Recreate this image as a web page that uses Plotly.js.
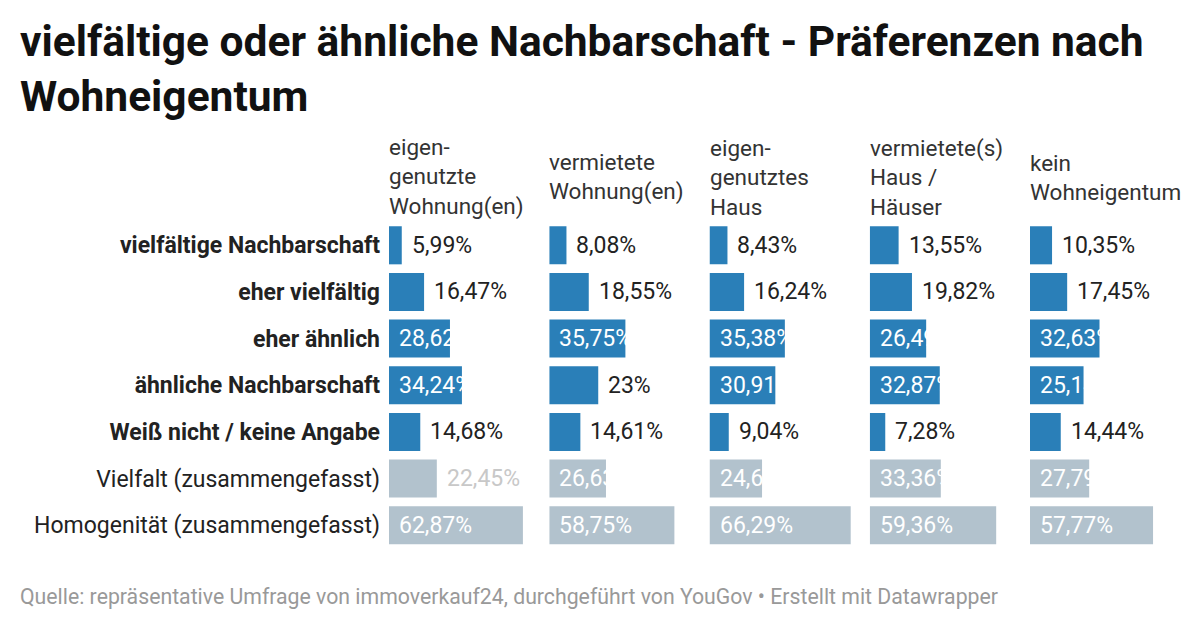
<!DOCTYPE html>
<html>
<head>
<meta charset="utf-8">
<script src="https://cdn.plot.ly/plotly-3.0.1.min.js"></script>
<style>html,body{margin:0;padding:0;background:#fff;}#chart{width:1200px;height:628px;}</style>
</head>
<body>
<div id="chart"></div>
<script>
// ---- data ----
const rowLabels = [
  "vielfältige Nachbarschaft",
  "eher vielfältig",
  "eher ähnlich",
  "ähnliche Nachbarschaft",
  "Weiß nicht / keine Angabe",
  "Vielfalt (zusammengefasst)",
  "Homogenität (zusammengefasst)"
];
const columnHeaders = [
  "eigen-<br>genutzte<br>Wohnung(en)",
  "vermietete<br>Wohnung(en)",
  "eigen-<br>genutztes<br>Haus",
  "vermietete(s)<br>Haus /<br>Häuser",
  "kein<br>Wohneigentum"
];
const eigengenutzteWohnung = [5.99, 16.47, 28.62, 34.24, 14.68, 22.45, 62.87];
const vermieteteWohnung    = [8.08, 18.55, 35.75, 23, 14.61, 26.63, 58.75];
const eigengenutztesHaus   = [8.43, 16.24, 35.38, 30.91, 9.04, 24.67, 66.29];
const vermieteteHaeuser    = [13.55, 19.82, 26.49, 32.87, 7.28, 33.36, 59.36];
const keinWohneigentum     = [10.35, 17.45, 32.63, 25.14, 14.44, 27.79, 57.77];
const columns = [eigengenutzteWohnung, vermieteteWohnung, eigengenutztesHaus, vermieteteHaeuser, keinWohneigentum];
const boldRows = [true, true, true, true, true, false, false];
const titleText = "vielfältige oder ähnliche Nachbarschaft - Präferenzen nach<br>Wohneigentum";
const sourceText = "Quelle: repräsentative Umfrage von immoverkauf24, durchgeführt von YouGov • Erstellt mit Datawrapper";

// ---- layout geometry ----
const W = 1200, H = 628;
const FONT = "Roboto, 'Noto Sans', sans-serif";
const BLUE = "#2a7fb8", GREY = "#b2c2cd";
const colStart = 389, colPitch = 160.25, colWidth = 150, pxPerUnit = 2.13;
const plotTop = 222, plotBottom = 548.5;
const insideThreshold = 24;

const fmt = v => String(v).replace('.', ',') + '%';

const traces = [];
const annotations = [];
const layout = {
  width: W, height: H,
  margin: {l: 0, r: 0, t: 0, b: 0},
  paper_bgcolor: "#fff", plot_bgcolor: "rgba(0,0,0,0)",
  showlegend: false,
  bargap: 0.185,
  font: {family: FONT, color: "#222"},
  yaxis: {
    domain: [1 - plotBottom / H, 1 - plotTop / H],
    type: "category",
    categoryorder: "array",
    categoryarray: rowLabels,
    autorange: "reversed",
    tickmode: "array",
    tickvals: rowLabels,
    ticktext: rowLabels.map((r, i) => boldRows[i] ? "<b>" + r + "</b>" : r),
    tickfont: {family: FONT, size: 23, color: "#222"},
    ticks: "",
    ticklabelstandoff: 8,
    showgrid: false, zeroline: false, showline: false,
    anchor: "x",
    fixedrange: true
  },
  annotations: annotations
};

columns.forEach((vals, c) => {
  const ax = c === 0 ? "x" : "x" + (c + 1);
  const axKey = c === 0 ? "xaxis" : "xaxis" + (c + 1);
  const x0 = colStart + c * colPitch;
  layout[axKey] = {
    domain: [x0 / W, (x0 + colWidth) / W],
    range: [0, colWidth / pxPerUnit],
    anchor: "y",
    showgrid: false, zeroline: false, showline: false,
    showticklabels: false, ticks: "",
    fixedrange: true
  };
  traces.push({
    type: "bar",
    orientation: "h",
    x: vals,
    y: rowLabels,
    xaxis: ax,
    yaxis: "y",
    marker: {color: rowLabels.map((r, i) => boldRows[i] ? BLUE : GREY), line: {width: 0}},
    hoverinfo: "none",
    cliponaxis: false
  });
  // column header
  annotations.push({
    xref: ax + " domain", yref: "paper",
    x: 0, y: 1 - 177 / H,
    xanchor: "left", yanchor: "middle", align: "left",
    text: columnHeaders[c], showarrow: false,
    font: {family: FONT, size: 22.5, color: "#333"},
    borderpad: 0, borderwidth: 0
  });
  // value labels
  vals.forEach((v, i) => {
    const inside = v >= insideThreshold;
    const color = inside ? "#ffffff" : (boldRows[i] ? "#222" : "#c8c8c8");
    annotations.push({
      xref: ax, yref: "y",
      x: inside ? 0 : v, y: rowLabels[i],
      xanchor: "left", yanchor: "middle",
      xshift: 10,
      text: fmt(v), showarrow: false,
      font: {family: FONT, size: 23, color: color},
      borderpad: 0, borderwidth: 0
    });
  });
});

// title
annotations.push({
  xref: "paper", yref: "paper", x: 20 / W, y: 1 - 17 / H,
  xanchor: "left", yanchor: "top", align: "left",
  text: "<b>" + titleText + "</b>", showarrow: false,
  font: {family: FONT, size: 42.5, color: "#111"},
  borderpad: 0, borderwidth: 0
});
// source
annotations.push({
  xref: "paper", yref: "paper", x: 20 / W, y: 1 - 596 / H,
  xanchor: "left", yanchor: "middle", align: "left",
  text: sourceText, showarrow: false,
  font: {family: FONT, size: 21.25, color: "#999"},
  borderpad: 0, borderwidth: 0
});

Plotly.newPlot("chart", traces, layout, {staticPlot: true, displayModeBar: false});
</script>
</body>
</html>
